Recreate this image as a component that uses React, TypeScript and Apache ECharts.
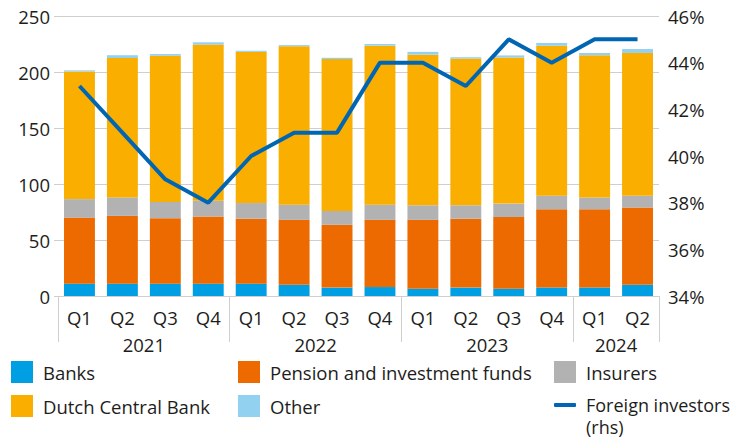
import React, { useEffect, useRef } from "react";
import * as echarts from "echarts";

const quarters = ["Q1", "Q2", "Q3", "Q4", "Q1", "Q2", "Q3", "Q4", "Q1", "Q2", "Q3", "Q4", "Q1", "Q2"];
const yearLabels = ["2021", "2022", "2023", "2024"];
const yearLabelPositions = [2, 6, 10, 13];
const yearBoundaries = [0, 4, 8, 12, 14];

const banks = [11, 11, 11, 11, 11, 10, 7.5, 8, 6.5, 7.5, 6.5, 7.5, 7.5, 10];
const pension = [59, 60.5, 58.5, 60, 58, 58, 56, 60, 61.5, 61.5, 64, 70, 70, 69];
const insurers = [16.5, 16.5, 14.5, 14, 14, 13.5, 12.5, 13.5, 13, 12, 12, 12, 10.5, 10.5];
const dutchCentralBank = [114, 124.5, 130.5, 139.5, 135, 141.5, 135.5, 142, 134.5, 131, 130.5, 134, 127, 127.5];
const other = [1, 2.5, 1.5, 2, 1, 1, 1.2, 1.5, 2.5, 1.2, 1.8, 2.5, 2, 3.5];
const foreignInvestors = [43, 41, 39, 38, 40, 41, 41, 44, 44, 43, 45, 44, 45, 45];

const FONT = "Open Sans";
const TEXT = "#1d1d1b";
const GRID = "#cfcfcf";
const FS = 18.5;

export default function App() {
  const ref = useRef<HTMLDivElement>(null);
  useEffect(() => {
    document.body.style.margin = "0";
    if (!ref.current) return;
    const chart = echarts.init(ref.current, undefined, { renderer: "svg" });
    const barLegend = (name: string, left: number, top: number) => ({
      data: [name],
      left,
      top,
      orient: "horizontal",
      icon: "rect",
      itemWidth: 22,
      itemHeight: 22,
      padding: 0,
      selectedMode: false,
      textStyle: { fontFamily: FONT, fontSize: FS, color: TEXT, padding: [0, 0, 0, 5] },
    });
    const bar = (name: string, data: number[], color: string) => ({
      name,
      type: "bar",
      stack: "total",
      data,
      barWidth: "72%",
      itemStyle: { color },
      xAxisIndex: 0,
      yAxisIndex: 0,
    });
    chart.setOption({
      animation: false,
      textStyle: { fontFamily: FONT },
      grid: { left: 58, right: 77, top: 16, bottom: 142, containLabel: false },
      legend: [
        barLegend("Banks", 11, 361),
        barLegend("Pension and investment funds", 238, 361),
        barLegend("Insurers", 554, 361),
        barLegend("Dutch Central Bank", 11, 395),
        barLegend("Other", 238, 395),
        {
          data: ["Foreign investors (rhs)"],
          left: 554,
          top: 372,
          icon: "roundRect",
          itemWidth: 22,
          itemHeight: 4,
          padding: 0,
          selectedMode: false,
          formatter: () => " \nForeign investors\n(rhs)",
          textStyle: {
            fontFamily: FONT,
            fontSize: 18,
            color: TEXT,
            lineHeight: 22,
            padding: [0, 0, 0, 5],
          },
        },
      ],
      xAxis: [
        {
          type: "category",
          data: quarters,
          position: "bottom",
          axisLine: { show: true, lineStyle: { color: GRID, width: 1 } },
          axisTick: { show: false },
          axisLabel: { fontFamily: FONT, fontSize: FS, color: TEXT, margin: 12 },
        },
        {
          type: "value",
          min: 0,
          max: 14,
          position: "bottom",
          axisLine: { show: false },
          splitLine: { show: false },
          axisTick: {
            show: true,
            customValues: yearBoundaries,
            length: 46,
            lineStyle: { color: GRID, width: 1 },
          },
          axisLabel: {
            show: true,
            customValues: yearLabelPositions,
            formatter: (v: number) => yearLabels[yearLabelPositions.indexOf(v)] ?? "",
            fontFamily: FONT,
            fontSize: FS,
            color: TEXT,
            margin: 39,
          },
        },
      ],
      yAxis: [
        {
          type: "value",
          min: 0,
          max: 250,
          interval: 50,
          axisLine: { show: false },
          axisTick: { show: true, length: 4, lineStyle: { color: GRID } },
          splitLine: { show: true, lineStyle: { color: GRID, width: 1 } },
          axisLabel: { fontFamily: FONT, fontSize: FS, color: TEXT, margin: 8 },
        },
        {
          type: "value",
          min: 34,
          max: 46,
          interval: 2,
          position: "right",
          axisLine: { show: false },
          axisTick: { show: false },
          splitLine: { show: false },
          axisLabel: { fontFamily: FONT, fontSize: FS, color: TEXT, margin: 9, formatter: "{value}%" },
        },
      ],
      series: [
        bar("Banks", banks, "#009fe3"),
        bar("Pension and investment funds", pension, "#ec6a00"),
        bar("Insurers", insurers, "#b2b2b2"),
        bar("Dutch Central Bank", dutchCentralBank, "#f9ae00"),
        bar("Other", other, "#93d1f1"),
        {
          name: "Foreign investors (rhs)",
          type: "line",
          data: foreignInvestors,
          xAxisIndex: 0,
          yAxisIndex: 1,
          symbol: "none",
          lineStyle: { color: "#0066b3", width: 4 },
          itemStyle: { color: "#0066b3" },
        },
      ],
    });
    return () => chart.dispose();
  }, []);
  return <div ref={ref} style={{ width: 736, height: 438 }} />;
}
